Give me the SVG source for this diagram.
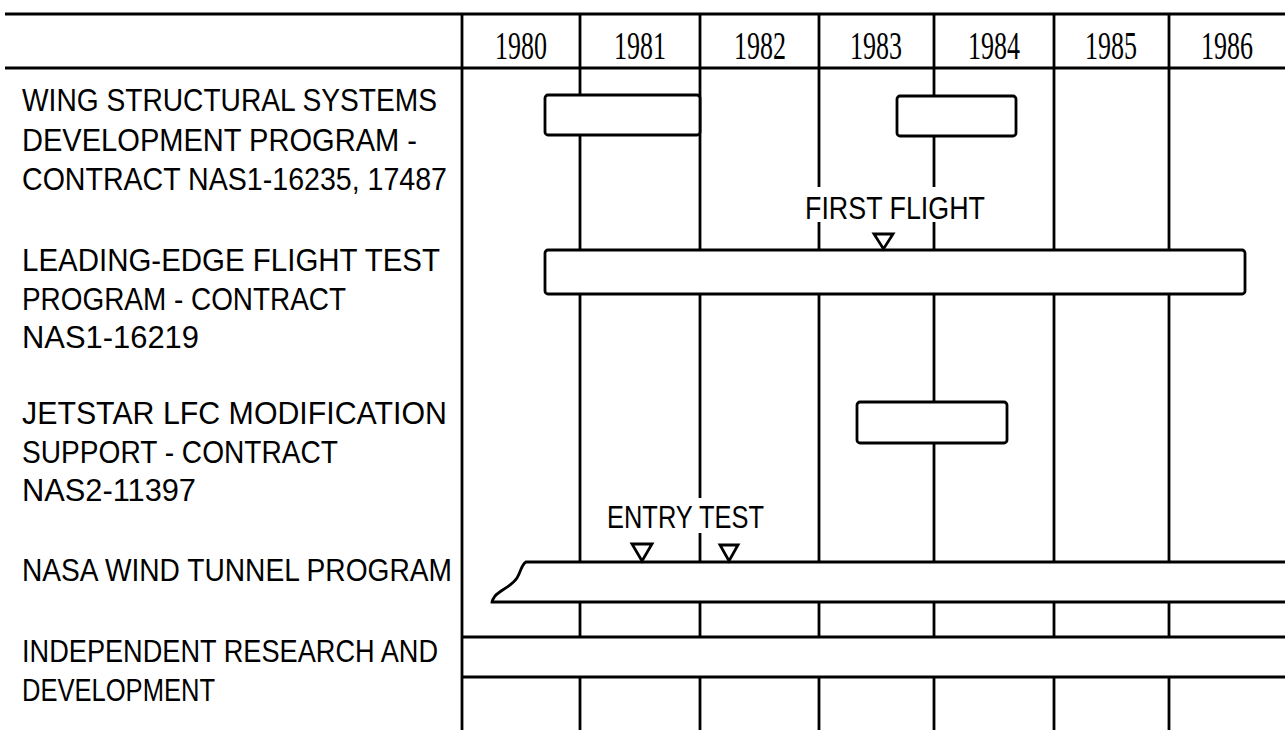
<svg xmlns="http://www.w3.org/2000/svg" width="1285" height="730" viewBox="0 0 1285 730">
<style>
.ln{stroke:#000;stroke-width:2.8;fill:none;stroke-linecap:butt}
.bar{stroke:#000;stroke-width:2.8;fill:#fff}
.lbl{font-family:"Liberation Sans","DejaVu Sans",sans-serif;font-size:31px;fill:#000}
.yr{font-family:"Liberation Serif","DejaVu Serif",serif;font-size:40px;fill:#000;text-anchor:middle}
.ev{font-family:"Liberation Sans","DejaVu Sans",sans-serif;font-size:32px;fill:#000}
.tri{stroke:#000;stroke-width:2.8;fill:#fff;stroke-linejoin:miter}
</style>
<rect width="1285" height="730" fill="#fff"/>
<g id="grid">
<path class="ln" d="M5 14H1285M5 68H1285"/>
<path class="ln" d="M462 14V730"/>
<path class="ln" d="M580 14V561M700 14V561M819 14V561M934 14V561M1054 14V561M1169 14V561"/>
<path class="ln" d="M580 602V637M700 602V637M819 602V637M934 602V637M1054 602V637M1169 602V637"/>
<path class="ln" d="M580 677V730M700 677V730M819 677V730M934 677V730M1054 677V730M1169 677V730"/>
</g>
<g id="years">
<text class="yr" x="521" y="59" textLength="52" lengthAdjust="spacingAndGlyphs">1980</text>
<text class="yr" x="640" y="59" textLength="52" lengthAdjust="spacingAndGlyphs">1981</text>
<text class="yr" x="760" y="59" textLength="52" lengthAdjust="spacingAndGlyphs">1982</text>
<text class="yr" x="876" y="59" textLength="52" lengthAdjust="spacingAndGlyphs">1983</text>
<text class="yr" x="994" y="59" textLength="52" lengthAdjust="spacingAndGlyphs">1984</text>
<text class="yr" x="1111" y="59" textLength="52" lengthAdjust="spacingAndGlyphs">1985</text>
<text class="yr" x="1227" y="59" textLength="52" lengthAdjust="spacingAndGlyphs">1986</text>
</g>
<g id="row-wing">
<text class="lbl" x="22" y="111" textLength="415" lengthAdjust="spacingAndGlyphs">WING STRUCTURAL SYSTEMS</text>
<text class="lbl" x="22" y="151" textLength="395" lengthAdjust="spacingAndGlyphs">DEVELOPMENT PROGRAM -</text>
<text class="lbl" x="22" y="190" textLength="425" lengthAdjust="spacingAndGlyphs">CONTRACT NAS1-16235, 17487</text>
<rect class="bar" x="545" y="95" width="155" height="40" rx="3"/>
<rect class="bar" x="897" y="96" width="119" height="40" rx="3"/>
</g>
<g id="row-leading-edge">
<text class="lbl" x="22" y="271" textLength="418" lengthAdjust="spacingAndGlyphs">LEADING-EDGE FLIGHT TEST</text>
<text class="lbl" x="22" y="310" textLength="324" lengthAdjust="spacingAndGlyphs">PROGRAM - CONTRACT</text>
<text class="lbl" x="22" y="348" textLength="177" lengthAdjust="spacingAndGlyphs">NAS1-16219</text>
<rect class="bar" x="545" y="250" width="700" height="44" rx="3"/>
<rect x="800" y="187" width="190" height="35" fill="#fff"/>
<text class="ev" x="805" y="219" textLength="180" lengthAdjust="spacingAndGlyphs">FIRST FLIGHT</text>
<polygon class="tri" points="874,234 893,234 883.5,249"/>
</g>
<g id="row-jetstar">
<text class="lbl" x="22" y="424" textLength="425" lengthAdjust="spacingAndGlyphs">JETSTAR LFC MODIFICATION</text>
<text class="lbl" x="22" y="463" textLength="316" lengthAdjust="spacingAndGlyphs">SUPPORT - CONTRACT</text>
<text class="lbl" x="22" y="501" textLength="174" lengthAdjust="spacingAndGlyphs">NAS2-11397</text>
<rect class="bar" x="857" y="402" width="150" height="41" rx="3"/>
</g>
<g id="row-wind-tunnel">
<text class="lbl" x="22" y="581" textLength="430" lengthAdjust="spacingAndGlyphs">NASA WIND TUNNEL PROGRAM</text>
<path class="bar" d="M1286 562H526C521 565 521 572 517 578C511 587 500 590 495 596C493 599 492 601 492 602H1286"/>
<rect x="602" y="498" width="166" height="35" fill="#fff"/>
<text class="ev" x="607" y="528" textLength="157" lengthAdjust="spacingAndGlyphs">ENTRY TEST</text>
<polygon class="tri" points="632,544 652,544 642,561"/>
<polygon class="tri" points="720,545 738,545 729,561"/>
</g>
<g id="row-ird">
<text class="lbl" x="22" y="662" textLength="416" lengthAdjust="spacingAndGlyphs">INDEPENDENT RESEARCH AND</text>
<text class="lbl" x="22" y="701" textLength="193" lengthAdjust="spacingAndGlyphs">DEVELOPMENT</text>
<path class="ln" d="M462 637H1285M462 677H1285"/>
</g>
</svg>
